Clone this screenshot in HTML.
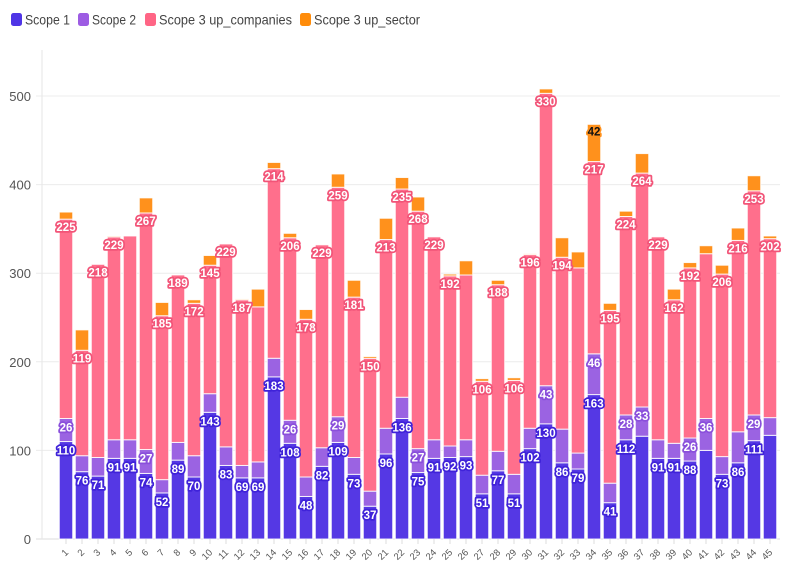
<!DOCTYPE html>
<html><head><meta charset="utf-8"><style>
html,body{margin:0;padding:0;background:#fff;}
svg{display:block;font-family:"Liberation Sans",sans-serif;}
.lbl{font-weight:bold;font-size:11.5px;paint-order:stroke;stroke-width:3.5px;stroke-linejoin:round;text-anchor:middle;dominant-baseline:central;}
</style></head><body>
<svg id="chart" width="796" height="575">
<g>
 <g><rect x="11" y="13" width="11" height="13" rx="2.5" fill="#4f35e6"/><text x="25" y="24.5" font-size="14" fill="#444" textLength="45" lengthAdjust="spacingAndGlyphs">Scope 1</text></g>
 <g><rect x="78" y="13" width="11" height="13" rx="2.5" fill="#9d5ce3"/><text x="92" y="24.5" font-size="14" fill="#444" textLength="44" lengthAdjust="spacingAndGlyphs">Scope 2</text></g>
 <g><rect x="145" y="13" width="11" height="13" rx="2.5" fill="#ff6585"/><text x="159" y="24.5" font-size="14" fill="#444" textLength="133" lengthAdjust="spacingAndGlyphs">Scope 3 up_companies</text></g>
 <g><rect x="300" y="13" width="11" height="13" rx="2.5" fill="#ff8c0a"/><text x="314" y="24.5" font-size="14" fill="#444" textLength="106" lengthAdjust="spacingAndGlyphs">Scope 3 up_sector</text></g>
</g>
<g id="grid"></g>
<g id="bars"></g>
<g id="labels"></g>
<g id="xaxis"></g>
<g id="yaxis"></g>
</svg>
<script>
const categories = ["1","2","3","4","5","6","7","8","9","10","11","12","13","14","15","16","17","18","19","20","21","22","23","24","25","26","27","28","29","30","31","32","33","34","35","36","37","38","39","40","41","42","43","44","45"];
const scope1 = [110,76,71,91,91,74,52,89,70,143,83,69,69,183,108,48,82,109,73,37,96,136,75,91,92,93,51,77,51,102,130,86,79,163,41,112,116,91,91,88,100,73,86,111,117];
const scope2 = [26,18,21,21,21,27,15,20,24,21,21,14,18,21,26,22,21,29,19,17,29,24,27,21,13,19,21,22,22,23,43,38,18,46,22,28,33,21,17,26,36,20,35,29,20];
const scope3Companies = [225,119,218,229,230,267,185,189,172,145,229,187,175,214,206,178,229,259,181,150,213,235,268,229,192,186,106,188,106,196,330,194,209,217,195,224,264,229,162,192,186,206,216,253,202];
const scope3Sector = [8,23,0,1,0,17,15,0,4,11,0,1,20,7,5,11,0,15,19,2,24,13,16,0,2,16,3,5,3,1,5,22,18,42,8,6,22,0,12,6,9,10,14,17,3];
const hiddenLabels1 = [37,41,45];
const shownLabels2 = [1,6,15,18,23,31,34,36,37,40,41,44];
const hiddenLabels3 = [5,13,26,33,41];
const shownLabels4 = [34];
const yTicks = [0,100,200,300,400,500];

const NS="http://www.w3.org/2000/svg";
const x0=58, band=16, barW=13.4, y0=539, k=443/500;
const xs=i=>x0+i*band+(band-barW)/2;
const ys=v=>y0-v*k;
function mk(tag,attrs,parent){const e=document.createElementNS(NS,tag);for(const a in attrs)e.setAttribute(a,attrs[a]);parent.appendChild(e);return e;}
const grid=document.getElementById('grid'),bars=document.getElementById('bars'),labels=document.getElementById('labels'),xa=document.getElementById('xaxis'),ya=document.getElementById('yaxis');
yTicks.forEach(t=>{
 const g=mk('line',{x1:36,x2:780,y1:ys(t),y2:ys(t),stroke:t===0?'#ddd':'#ececec','stroke-width':1},grid);
 
 
 const tx=mk('text',{x:31,y:ys(t)+5,'text-anchor':'end','font-size':13,fill:'#555'},ya);
 tx.textContent=t;
 
 
});
const ax=mk('line',{x1:42,x2:42,y1:50,y2:539,stroke:'#e6e6e6'},ya);


const series=[
 {d:scope1,fill:'#5538e4',stroke:'#3f22d9',name:'scope-1',show:i=>!hiddenLabels1.includes(i+1),txt:'#fff'},
 {d:scope2,fill:'#9b63e2',stroke:'#8a4fdb',name:'scope-2',show:i=>shownLabels2.includes(i+1),txt:'#fff'},
 {d:scope3Companies,fill:'#ff6f8c',stroke:'#f25478',name:'scope-3-up-companies',show:i=>!hiddenLabels3.includes(i+1),txt:'#fff'},
 {d:scope3Sector,fill:'#ff911c',stroke:'#ff8c0a',name:'scope-3-up-sector',show:i=>shownLabels4.includes(i+1),txt:'#111'}
];
categories.forEach((c,i)=>{
 let base=0;
 const cx=xs(i)+barW/2;
 series.forEach((s,si)=>{
  const v=s.d[i];
  if(v>0){
   const r=mk('rect',{x:xs(i),y:ys(base+v),width:barW,height:Math.max(0,v*k),fill:s.fill,stroke:'rgba(255,255,255,0.85)','stroke-width':1},bars);
   
   
   if(s.show(i)){
    const ly = si===2 ? ys(base+v)+9 : (si===3 ? ys(base+v)+8 : ys(base+v)+10);
    const t=mk('text',{x:cx,y:ly,class:'lbl',fill:s.txt,stroke:si===3?'#ff911c':s.stroke},labels);
    t.textContent=v;
    
    
   }
  }
  base+=v;
 });
 const tk=mk('line',{x1:cx,x2:cx,y1:539,y2:544,stroke:'#ddd'},xa);
 
 
 const tl=mk('text',{x:cx+3,y:553,'text-anchor':'end','font-size':9.5,fill:'#555',transform:`rotate(-45 ${cx+3} 553)`},xa);
 tl.textContent=c;
 
 
});
</script>
</body></html>
